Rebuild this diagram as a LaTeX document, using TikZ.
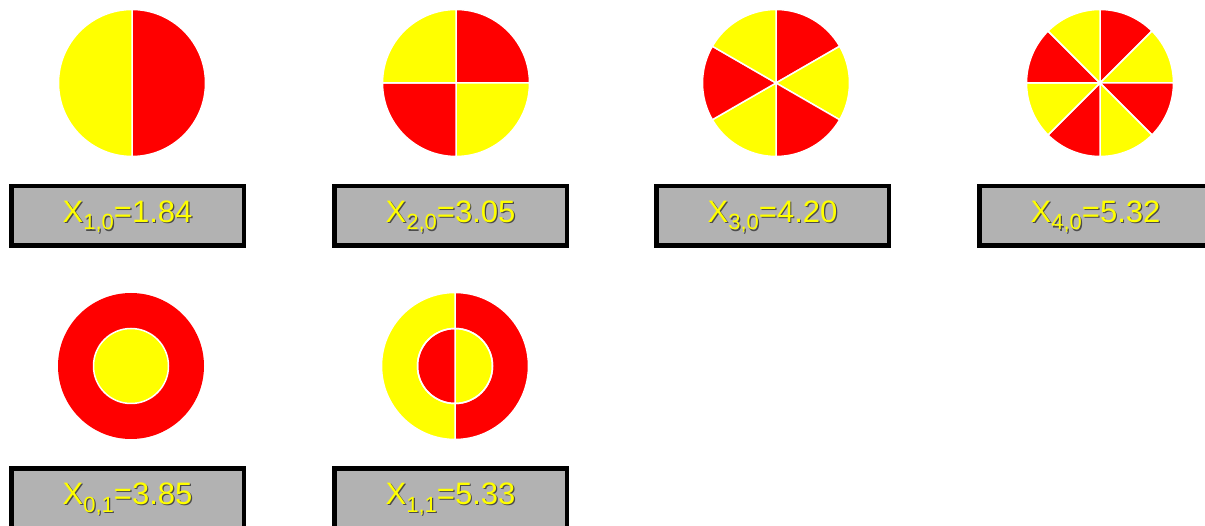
\documentclass[tikz,border=0pt]{standalone}
\usepackage{fontspec}
\setmainfont{Liberation Sans}
\definecolor{pr}{RGB}{255,0,0}
\definecolor{py}{RGB}{255,255,0}
\definecolor{boxgray}{RGB}{178,178,178}
\newcommand\mypie[6]{% cx, cy, n, r, first colour, second colour
  \pgfmathsetmacro\pied{360/#3}
  \foreach \k in {1,...,#3} {
    \pgfmathsetmacro\piea{-90+(\k-1)*\pied}
    \pgfmathsetmacro\pieb{-90+\k*\pied}
    \pgfmathtruncatemacro\pieodd{mod(\k,2)}
    \ifnum\pieodd=1 \def\piecol{#5}\else\def\piecol{#6}\fi
    \filldraw[sector, fill=\piecol] (#1,#2) -- ++(\piea:#4)
      arc[start angle=\piea, end angle=\pieb, radius=#4] -- cycle;
  }}
\newcommand\mylab[4]{% name, x, y, content
  \node[labtext, text=black!70, anchor=base] at (#2+1.2,#3+1.2) {#4};
  \node[labtext, text=py, anchor=base] (#1) at (#2,#3) {#4};}
\newcommand\sub[1]{\raisebox{-7.3pt}{\fontsize{22}{24}\selectfont #1}}
\begin{document}
\begin{tikzpicture}[x=1pt,y=-1pt,
  sector/.style={draw=white, line width=1.5pt, line join=round},
  labbox/.style={draw=black, line width=4.5pt, fill=boxgray,
    minimum width=232.5pt, minimum height=59.5pt, inner sep=0pt},
  labtext/.style={font=\fontsize{31}{36}\selectfont, inner sep=0pt}]
\useasboundingbox (0,0) rectangle (1205,526);
\clip (0,0) rectangle (1205,526);
% row 1 pies
\mypie{132}{83}{2}{73.5}{pr}{py}
\mypie{456}{83}{4}{73.5}{pr}{py}
\mypie{776}{83}{6}{73.5}{pr}{py}
\mypie{1100}{83}{8}{73.5}{pr}{py}
% row 2
\fill[pr] (131,366) circle[radius=73];
\filldraw[sector, fill=py] (131,366) circle[radius=37.5];
\mypie{455}{366}{2}{73.5}{pr}{py}
\mypie{455}{366}{2}{37.5}{py}{pr}
\draw[sector] (455,366) circle[radius=37.5];
% label boxes
\node[labbox] (b1) at (127.5,216) {};
\node[labbox] (b2) at (450.5,216) {};
\node[labbox] (b3) at (772.5,216) {};
\node[labbox] (b4) at (1095.5,216) {};
\node[labbox] (b5) at (127.5,498) {};
\node[labbox] (b6) at (450.5,498) {};
\mylab{t1}{127.5}{222.7}{X\sub{1,0}=1.84}
\mylab{t2}{450.5}{222.7}{X\sub{2,0}=3.05}
\mylab{t3}{772.5}{222.7}{X\sub{3,0}=4.20}
\mylab{t4}{1095.5}{222.7}{X\sub{4,0}=5.32}
\mylab{t5}{127.5}{504.7}{X\sub{0,1}=3.85}
\mylab{t6}{450.5}{504.7}{X\sub{1,1}=5.33}
\end{tikzpicture}
\end{document}
